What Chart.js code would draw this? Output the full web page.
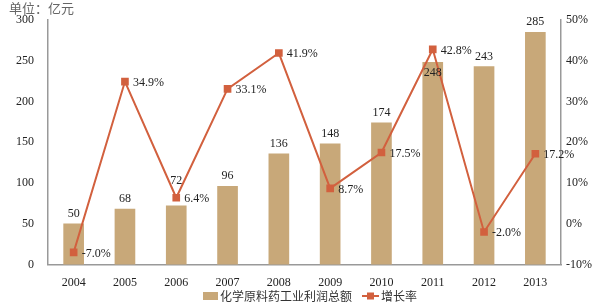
<!DOCTYPE html>
<html>
<head>
<meta charset="utf-8">
<script src="https://cdn.jsdelivr.net/npm/chart.js@4"></script>
<style>
  body { margin: 0; background: #fff; }
</style>
</head>
<body>
<canvas id="myChart" width="600" height="306"></canvas>
<script>
let years = ['2004', '2005', '2006', '2007', '2008', '2009', '2010', '2011', '2012', '2013'];
let profit = [50, 68, 72, 96, 136, 148, 174, 248, 243, 285];
let growth = [-7.0, 34.9, 6.4, 33.1, 41.9, 8.7, 17.5, 42.8, -2.0, 17.2];

let barColor = '#C8A879';
let lineColor = '#D2603E';
let serif = "'Liberation Serif', 'Times New Roman', serif";
let cjk = "'Noto Sans CJK SC', sans-serif";

// labels on bars and line points, plus the legend and unit title
let labelPlugin = {
    id: 'labels',
    afterDatasetsDraw(chart) {
        let ctx = chart.ctx;
        ctx.save();
        ctx.font = '12px ' + serif;
        ctx.fillStyle = '#222';

        let bars = chart.getDatasetMeta(0).data;
        let pts = chart.getDatasetMeta(1).data;
        ctx.textAlign = 'center';
        bars.forEach((b, i) => {
            if (i === 7) {
                // label sits inside the bar, under the line marker
                ctx.textBaseline = 'top';
                ctx.fillText(profit[i], b.x, b.y + 4);
            } else if (i === 2) {
                // lifted above the marker that covers the bar top
                ctx.textBaseline = 'bottom';
                ctx.fillText(profit[i], b.x, pts[i].y - 11);
            } else {
                ctx.textBaseline = 'bottom';
                ctx.fillText(profit[i], b.x, b.y - 4);
            }
        });

        ctx.textAlign = 'left';
        ctx.textBaseline = 'middle';
        pts.forEach((p, i) => {
            ctx.fillText(growth[i].toFixed(1) + '%', p.x + 8, p.y + 1);
        });

        // unit
        ctx.fillStyle = '#666';
        ctx.font = '13px ' + cjk;
        ctx.textBaseline = 'middle';
        ctx.fillText('单位：亿元', 9, 8);

        // legend
        let ly = 296;
        ctx.fillStyle = barColor;
        ctx.fillRect(203, ly - 4, 15, 8);
        ctx.fillStyle = '#333';
        ctx.font = '12px ' + cjk;
        ctx.fillText('化学原料药工业利润总额', 220, ly);
        ctx.strokeStyle = lineColor;
        ctx.lineWidth = 2;
        ctx.beginPath();
        ctx.moveTo(362, ly);
        ctx.lineTo(379, ly);
        ctx.stroke();
        ctx.fillStyle = lineColor;
        ctx.fillRect(367, ly - 3.5, 7, 7);
        ctx.fillStyle = '#333';
        ctx.fillText('增长率', 381, ly);
        ctx.restore();
    }
};

let myChart = document.getElementById('myChart').getContext('2d');

let chart = new Chart(myChart, {
    type: 'bar',
    data: {
        labels: years,
        datasets: [
            {
                type: 'bar',
                label: '化学原料药工业利润总额',
                data: profit,
                backgroundColor: barColor,
                barThickness: 20,
                yAxisID: 'y',
                order: 2
            },
            {
                type: 'line',
                label: '增长率',
                data: growth,
                borderColor: lineColor,
                backgroundColor: lineColor,
                borderWidth: 2,
                pointStyle: 'rect',
                pointRadius: 4,
                pointHoverRadius: 4,
                tension: 0,
                yAxisID: 'y1',
                order: 1
            }
        ]
    },
    options: {
        responsive: false,
        animation: false,
        layout: { padding: { top: 20, bottom: 9, left: 0, right: 0 } },
        plugins: {
            legend: { display: false },
            tooltip: { enabled: false }
        },
        scales: {
            x: {
                grid: { display: false, drawTicks: true, tickLength: 4, color: '#999' },
                border: { color: '#999', width: 1.5 },
                ticks: { color: '#222', font: { family: serif, size: 12 }, padding: 7, maxRotation: 0 }
            },
            y: {
                position: 'left',
                min: 0,
                max: 300,
                ticks: { stepSize: 50, color: '#222', font: { family: serif, size: 12 }, padding: 9 },
                grid: { display: false, drawTicks: true, tickLength: 5 },
                border: { color: '#999', width: 1.5 },
                afterFit(s) { s.width = 48; }
            },
            y1: {
                position: 'right',
                min: -10,
                max: 50,
                ticks: {
                    stepSize: 10,
                    color: '#222',
                    font: { family: serif, size: 12 },
                    padding: 2,
                    callback: v => v + '%'
                },
                grid: { display: false, drawTicks: true, tickLength: 3 },
                border: { color: '#999', width: 1.5 },
                afterFit(s) { s.width = 39; }
            }
        }
    },
    plugins: [labelPlugin]
});
</script>
</body>
</html>
